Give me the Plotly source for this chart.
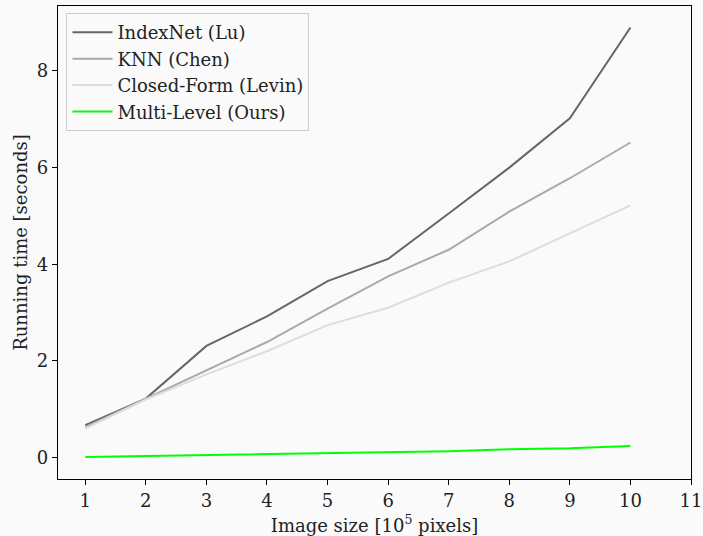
import plotly.graph_objects as go

image_size = [1, 2, 3, 4, 5, 6, 7, 8, 9, 10]
indexnet = [0.67, 1.22, 2.31, 2.92, 3.65, 4.11, 5.05, 6.0, 7.02, 8.9]
knn = [0.63, 1.22, 1.8, 2.39, 3.08, 3.75, 4.3, 5.09, 5.78, 6.52]
closed_form = [0.6, 1.2, 1.72, 2.2, 2.74, 3.1, 3.62, 4.06, 4.64, 5.22]
multi_level = [0.01, 0.03, 0.05, 0.07, 0.09, 0.11, 0.13, 0.17, 0.19, 0.24]
x_ticks = [1, 2, 3, 4, 5, 6, 7, 8, 9, 10, 11]
y_ticks = [0, 2, 4, 6, 8]

series = [
    ("IndexNet (Lu)", indexnet, "#666666"),
    ("KNN (Chen)", knn, "#aaaaaa"),
    ("Closed-Form (Levin)", closed_form, "#dddddd"),
    ("Multi-Level (Ours)", multi_level, "#00ff00"),
]

fig = go.Figure()
for name, vals, color in series:
    fig.add_trace(go.Scatter(x=image_size, y=vals, mode="lines", name=name,
                             line=dict(color=color, width=2)))

font = dict(family="DejaVu Serif", size=18, color="#222222")
axis_common = dict(showline=True, linecolor="#000000", linewidth=1.3, mirror=True,
                   ticks="outside", ticklen=5, tickcolor="#000000", tickwidth=1,
                   showgrid=False, zeroline=False, tickfont=font, automargin=False)

fig.update_layout(
    width=703, height=536,
    margin=dict(l=57.5, r=12.3, t=6, b=57, autoexpand=False),
    paper_bgcolor="#fafafa", plot_bgcolor="#fafafa",
    font=font,
    showlegend=True,
    legend=dict(x=0.0134, y=0.985, xanchor="left", yanchor="top",
                bgcolor="#fafafa", bordercolor="#cccccc", borderwidth=1,
                font=dict(family="DejaVu Serif", size=18, color="#222222"),
                tracegroupgap=0, itemwidth=40),
)
fig.update_xaxes(range=[0.55, 11], tickvals=x_ticks,
                 title=dict(text="Image size [10<sup>5</sup> pixels]", font=font),
                 **axis_common)
fig.update_yaxes(range=[-0.445, 9.345], tickvals=y_ticks,
                 title=dict(text="Running time [seconds]", font=font, standoff=4),
                 **axis_common)

fig.write_html("out.html", config={"displayModeBar": False},
               post_script="document.body.style.margin='0px';document.body.style.background='#fafafa';")
